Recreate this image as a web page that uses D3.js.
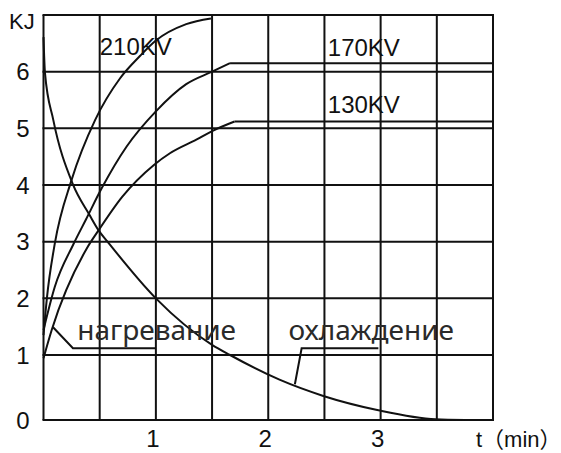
<!DOCTYPE html>
<html><head><meta charset="utf-8">
<script src="https://cdn.jsdelivr.net/npm/d3@7"></script>
<style>body{margin:0;background:#fff}svg{display:block}</style>
</head><body><svg id="c" width="561" height="453"></svg>
<script>
// ---- data ----
const gridT = [0, 0.5, 1, 1.5, 2, 2.5, 3, 3.5, 4];
const gridV = [0, 1, 2, 3, 4, 5, 6, 7];
const xTickLabels = [1, 2, 3];
const yTickLabels = [0, 1, 2, 3, 4, 5, 6];

const t210 = [0, 0.03, 0.10, 0.25, 0.46, 0.68, 0.86, 1.0, 1.27, 1.49];
const v210 = [1.35, 2.0, 2.96, 4.09, 5.15, 5.88, 6.28, 6.55, 6.84, 6.94];

const t170 = [0, 0.10, 0.265, 0.38, 0.52, 0.74, 1.0, 1.27, 1.50, 1.66];
const v170 = [1.44, 2.2, 2.95, 3.4, 3.95, 4.68, 5.30, 5.78, 6.0, 6.15];
const plateau170 = [[1.66, 6.15], [4, 6.15]];

const t130 = [0, 0.073, 0.385, 0.49, 0.70, 0.98, 1.125, 1.36, 1.51, 1.70];
const v130 = [0.95, 1.44, 2.88, 3.2, 3.79, 4.35, 4.56, 4.80, 4.96, 5.12];
const plateau130 = [[1.70, 5.12], [4, 5.12]];

const tCool = [0, 0.013, 0.087, 0.26, 0.41, 0.49, 0.57, 1.0, 1.5, 1.66, 2.10, 2.49, 2.98, 3.49, 3.75];
const vCool = [6.61, 5.98, 5.15, 4.02, 3.47, 3.2, 3.0, 2.0, 1.18, 1.0, 0.62, 0.37, 0.15, 0.01, 0];

const seriesLabels = [
  {text: "210KV", t: 0.50, v: 6.29},
  {text: "170KV", t: 2.53, v: 6.28},
  {text: "130KV", t: 2.53, v: 5.27}
];
const heatLabel = {text: "нагревание", t: 0.30, v: 1.26};
const coolLabel = {text: "охлаждение", t: 2.18, v: 1.26};
const heatLeader = [[0.085, 1.49], [0.262, 1.12], [1.0, 1.12]];
const coolLeader = [[2.237, 0.55], [2.297, 1.12], [2.98, 1.12]];

// ---- scales ----
const x = d3.scaleLinear().domain([0, 4]).range([43.5, 493]);
const y = d3.scaleLinear().domain([0, 1, 7]).range([420, 355, 15]);

const svg = d3.select("#c");
const ink = "#111";

// grid
svg.append("g").selectAll("line").data(gridT).join("line")
  .attr("x1", d => x(d)).attr("x2", d => x(d))
  .attr("y1", y(0)).attr("y2", y(7))
  .attr("stroke", ink).attr("stroke-width", 2);
svg.append("g").selectAll("line").data(gridV).join("line")
  .attr("x1", x(0) - 1).attr("x2", x(4) + 1)
  .attr("y1", d => y(d)).attr("y2", d => y(d))
  .attr("stroke", ink).attr("stroke-width", 2);

// curves
const zip = (ts, vs) => ts.map((t, i) => [t, vs[i]]);
const smooth = d3.line().x(d => x(d[0])).y(d => y(d[1])).curve(d3.curveMonotoneX);
const straight = d3.line().x(d => x(d[0])).y(d => y(d[1]));
const paths = [
  smooth(zip(t210, v210)),
  smooth(zip(t170, v170)), straight(plateau170),
  smooth(zip(t130, v130)), straight(plateau130),
  smooth(zip(tCool, vCool)),
  straight(heatLeader), straight(coolLeader)
];
svg.append("g").selectAll("path").data(paths).join("path")
  .attr("d", d => d).attr("fill", "none")
  .attr("stroke", ink).attr("stroke-width", 2).attr("stroke-linejoin", "miter");

// axis labels
const sans = "'Liberation Sans', Arial, sans-serif";
svg.append("g").selectAll("text").data(yTickLabels).join("text")
  .attr("x", 23).attr("y", d => y(d)).attr("dy", "0.36em")
  .attr("text-anchor", "middle").attr("font-family", sans).attr("font-size", 24)
  .attr("fill", ink).text(d => d);
svg.append("g").selectAll("text").data(xTickLabels).join("text")
  .attr("x", d => x(d) - 3).attr("y", 447)
  .attr("text-anchor", "middle").attr("font-family", sans).attr("font-size", 24)
  .attr("fill", ink).text(d => d);
svg.append("text").attr("x", 9).attr("y", 29).attr("font-family", sans)
  .attr("font-size", 22).attr("fill", ink).text("KJ");
svg.append("text").attr("x", 476).attr("y", 447)
  .attr("font-family", "'Liberation Sans', 'Noto Sans CJK SC', sans-serif")
  .attr("font-size", 22).attr("fill", ink).text("t（min）");

// series labels
svg.append("g").selectAll("text").data(seriesLabels).join("text")
  .attr("x", d => x(d.t)).attr("y", d => y(d.v))
  .attr("font-family", sans).attr("font-size", 24).attr("fill", ink)
  .text(d => d.text);

// russian labels
svg.append("g").selectAll("text").data([heatLabel, coolLabel]).join("text")
  .attr("x", d => x(d.t)).attr("y", d => y(d.v))
  .attr("font-family", "'Noto Sans', sans-serif").attr("font-size", 28)
  .attr("fill", "#2a2a2a").text(d => d.text);
</script>
</body></html>
